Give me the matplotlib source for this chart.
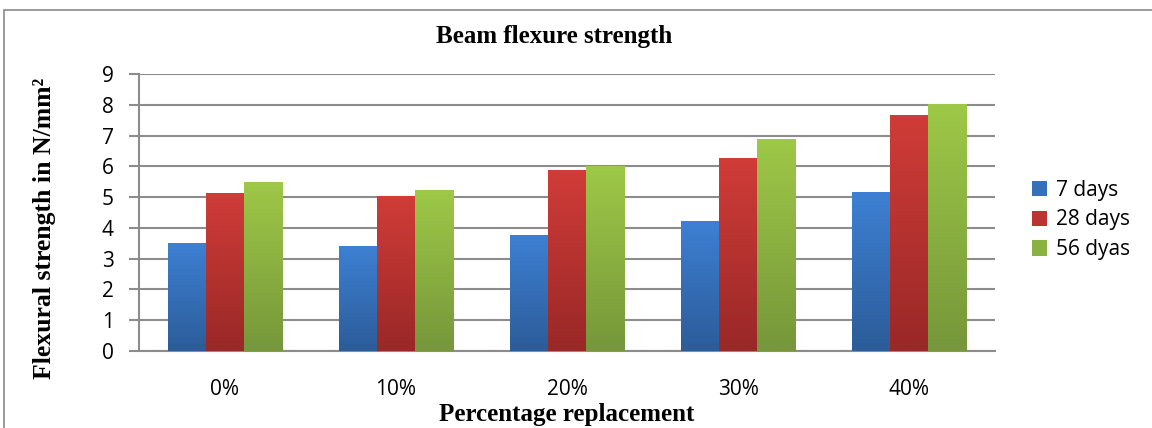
import numpy as np
import matplotlib.pyplot as plt
from matplotlib.patches import Rectangle
from matplotlib.colors import LinearSegmentedColormap

categories = ['0%', '10%', '20%', '30%', '40%']
series_names = ['7 days', '28 days', '56 dyas']
days_7 = [3.50, 3.41, 3.76, 4.22, 5.16]
days_28 = [5.13, 5.02, 5.85, 6.27, 7.65]
days_56 = [5.49, 5.23, 5.99, 6.86, 8.02]

# (top colour, bottom colour) of the gradient fill
shades = [('#3d80d3', '#2c5c99'), ('#d03c38', '#992827'), ('#9ec847', '#76973a')]
mid_colors = ['#3670ba', '#bb3431', '#8bb241']

fig = plt.figure(figsize=(11.52, 4.28), dpi=100)
fig.patches.append(Rectangle((4 / 1152, -0.05), 1.1, 1 - 10 / 428 + 0.05,
                             transform=fig.transFigure, fill=False,
                             edgecolor='#8a8a8a', linewidth=1.2))

ax = fig.add_axes([139 / 1152, 1 - 351 / 428, 856 / 1152, 277 / 428])
x = np.arange(len(categories))
w = 0.222
for i, (vals, name) in enumerate(zip([days_7, days_28, days_56], series_names)):
    bars = ax.bar(x + (i - 1) * w, vals, w, color=mid_colors[i], label=name, zorder=2)
    cmap = LinearSegmentedColormap.from_list('g%d' % i, [shades[i][1], shades[i][0]])
    for b in bars:
        b.set_alpha(0)
        x0, y0 = b.get_x(), b.get_y()
        ax.imshow(np.linspace(0, 1, 100).reshape(-1, 1), cmap=cmap, origin='lower',
                  aspect='auto', extent=(x0, x0 + b.get_width(), y0, y0 + b.get_height()),
                  zorder=3)

ax.set_xlim(-0.5, len(categories) - 0.5)
ax.set_ylim(0, 9)
ax.set_yticks(range(10))
ax.yaxis.grid(True, color='#8c8c8c', linewidth=1.5, zorder=1)
ax.set_axisbelow(True)
for s in ['top', 'right']:
    ax.spines[s].set_visible(False)
for s in ['left', 'bottom']:
    ax.spines[s].set_color('#8c8c8c')
    ax.spines[s].set_linewidth(1.5)
ax.set_xticks(x)
ax.set_xticklabels(categories)
ax.tick_params(axis='x', length=0, pad=20, labelsize=15)
ax.tick_params(axis='y', length=7, width=1.5, color='#8c8c8c', pad=11, labelsize=15)
for t in ax.get_xticklabels() + ax.get_yticklabels():
    t.set_fontfamily('Open Sans')

fig.text(554 / 1152, 1 - 37 / 428, 'Beam flexure strength', ha='center', va='center',
         fontsize=18, fontweight='bold', family='Liberation Serif')
fig.text(567 / 1152, 1 - 414 / 428, 'Percentage replacement', ha='center', va='center',
         fontsize=18, fontweight='bold', family='Liberation Serif')
fig.text(45 / 1152, 1 - 228 / 428, 'Flexural strength in N/mm²', ha='center',
         va='center', rotation=90, fontsize=18.5, fontweight='bold', family='Liberation Serif')

handles, labels = ax.get_legend_handles_labels()
leg = fig.legend(handles, labels, loc='center left', bbox_to_anchor=(1013 / 1152, 1 - 220 / 428),
                 frameon=False, prop={'family': 'Open Sans', 'size': 15},
                 handlelength=0.75, handleheight=0.75, handletextpad=0.4, labelspacing=0.42)
for h in leg.legend_handles:
    h.set_alpha(1)

fig.savefig('out.png', dpi=100)
